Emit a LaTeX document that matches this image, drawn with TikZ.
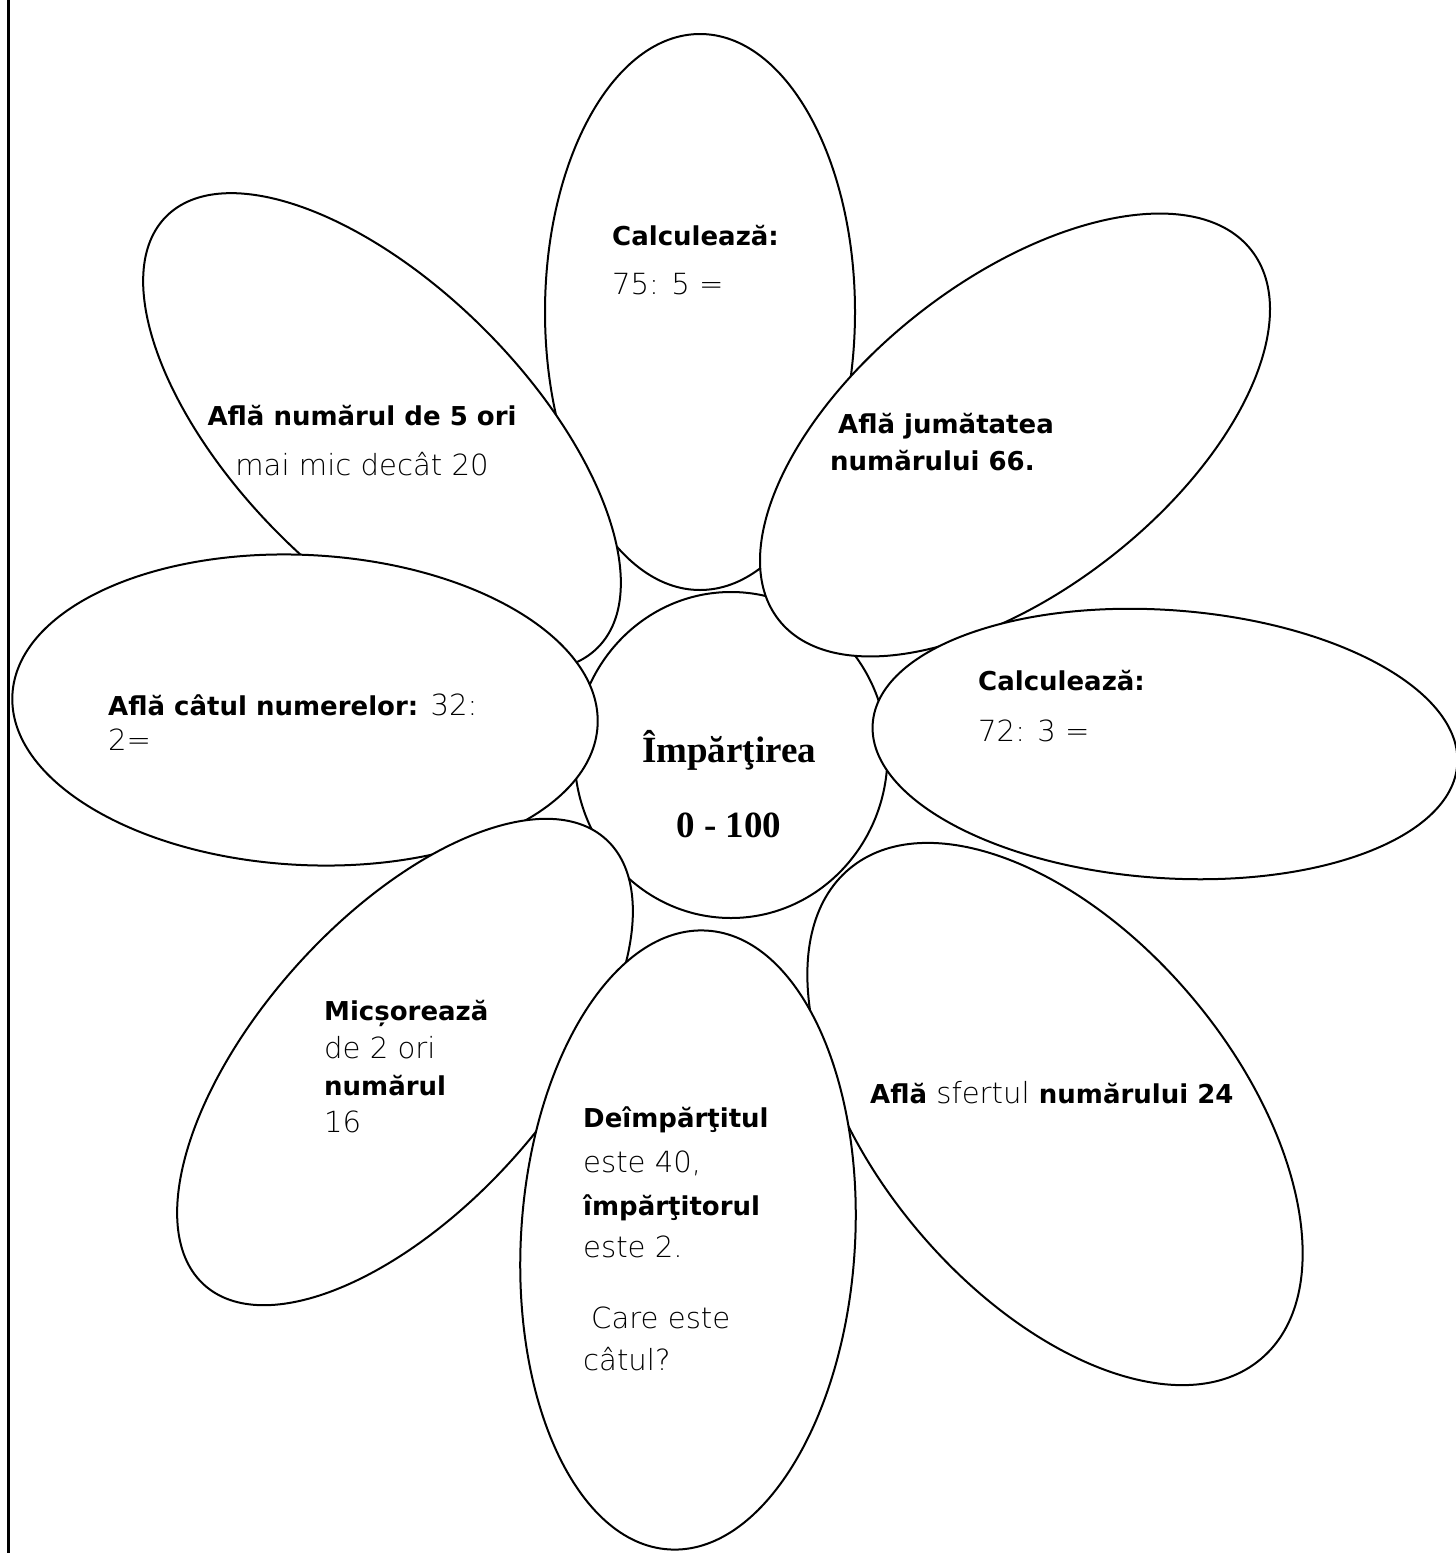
\documentclass[tikz,border=0pt]{standalone}
\usepackage{fontspec}
\setmainfont{DejaVu Sans ExtraLight}[Scale=1.12, BoldFont={DejaVu Sans Bold}, BoldFeatures={Scale=1.0}]
\newfontfamily\serifb{Liberation Serif}
\usetikzlibrary{shapes.geometric}
\begin{document}
\begin{tikzpicture}[x=1pt,y=-1pt,
  petal/.style={ellipse, draw, fill=white, line width=2pt, inner sep=0pt, outer sep=0pt},
  lbl/.style={anchor=base west, inner sep=0pt, font=\fontsize{26}{31}\selectfont},
  clbl/.style={anchor=base, inner sep=0pt, font=\serifb\bfseries\fontsize{37}{44}\selectfont}]
\useasboundingbox (0,0) rectangle (1456,1553);
\fill[white] (0,0) rectangle (1456,1553);
\coordinate (bt) at (8.7,0);
\coordinate (bb) at (8.7,1553);
\draw[line width=2.6pt] (bt) -- (bb);
% petals, back to front
\node[petal, minimum width=310pt, minimum height=556pt] (pT) at (700,312) {};
\node[petal, minimum width=313pt, minimum height=326pt] (pC) at (731,755) {};
\node[petal, minimum width=610pt, minimum height=290pt, rotate=-45] (pTL) at (382,432) {};
\node[petal, minimum width=600pt, minimum height=310pt, rotate=38] (pTR) at (1015,435) {};
\node[petal, minimum width=586pt, minimum height=310pt, rotate=-3] (pL) at (305,710) {};
\node[petal, minimum width=586pt, minimum height=268pt, rotate=-4] (pR) at (1165,744) {};
\node[petal, minimum width=600pt, minimum height=290pt, rotate=48] (pLL) at (405,1062) {};
\node[petal, minimum width=640pt, minimum height=360pt, rotate=-50] (pLR) at (1055,1114) {};
\node[petal, minimum width=334pt, minimum height=620pt, rotate=-3.5] (pB) at (688,1240) {};
% texts
\node[lbl] (tT1) at (612,245) {\textbf{Calculează:}};
\node[lbl] (tT2) at (612,294) {75: 5 =};
\node[lbl, anchor=base] (tTL1) at (362,425) {\textbf{Află numărul de 5 ori}};
\node[lbl, anchor=base] (tTL2) at (362,475) {mai mic decât 20};
\node[lbl] (tTR1) at (838,433) {\textbf{Află jumătatea}};
\node[lbl] (tTR2) at (830,470) {\textbf{numărului 66.}};
\node[lbl] (tR1) at (978,690) {\textbf{Calculează:}};
\node[lbl] (tR2) at (978,741) {72: 3 =};
\node[lbl] (tL1) at (108,715) {\textbf{Află câtul numerelor:} 32:};
\node[lbl] (tL2) at (108,750) {2=};
\node[lbl] (tLL1) at (324,1020) {\textbf{Micșorează}};
\node[lbl] (tLL2) at (324,1058) {de 2 ori};
\node[lbl] (tLL3) at (324,1095) {\textbf{numărul}};
\node[lbl] (tLL4) at (324,1132) {16};
\node[lbl] (tB1) at (583,1127) {\textbf{Deîmpărţitul}};
\node[lbl] (tB2) at (583,1172) {este 40,};
\node[lbl] (tB3) at (583,1215) {\textbf{împărţitorul}};
\node[lbl] (tB4) at (583,1257) {este 2.};
\node[lbl] (tB5) at (591,1328) {Care este};
\node[lbl] (tB6) at (583,1370) {câtul?};
\node[lbl] (tLR) at (870,1103) {\textbf{Află} sfertul \textbf{numărului 24}};
\node[clbl] (tC1) at (729,762) {Împărţirea};
\node[clbl] (tC2) at (729,837) {0 - 100};
\end{tikzpicture}
\end{document}
